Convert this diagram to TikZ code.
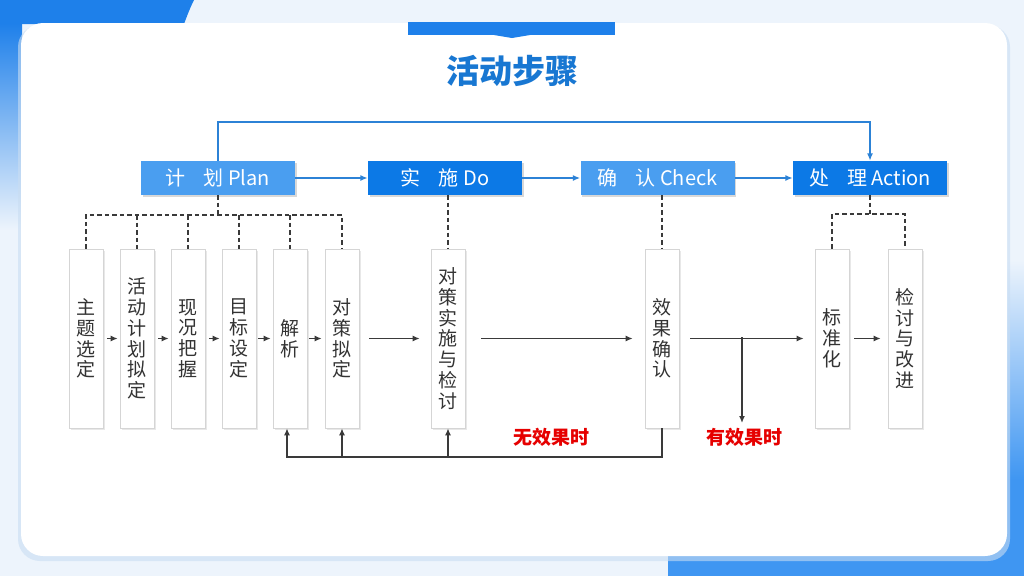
\documentclass[tikz,border=0pt]{standalone}
\usepackage{fontspec}
\setmainfont{Noto Sans CJK SC}
\usetikzlibrary{arrows.meta,shadows}
\definecolor{bg}{HTML}{EDF4FC}
\definecolor{topblue}{HTML}{1E80EA}
\definecolor{hdrlight}{HTML}{4A9EF0}
\definecolor{hdrdark}{HTML}{0C79E6}
\definecolor{titleblue}{HTML}{1877D2}
\definecolor{loopblue}{HTML}{2C82D6}
\definecolor{linegray}{HTML}{3A3A3A}
\definecolor{boxedge}{HTML}{D5D5D5}
\definecolor{txtgray}{HTML}{333333}
\definecolor{redtxt}{HTML}{E60000}
\definecolor{brblue}{HTML}{3F96F2}
\definecolor{cardshadow}{HTML}{C9DDF2}
\begin{document}
\begin{tikzpicture}[x=1pt,y=-1pt,
  hdrL/.style={fill=hdrlight, text=white, minimum width=154pt, minimum height=34pt,
    inner sep=0pt, font=\fontsize{20}{22}\selectfont,
    drop shadow={shadow xshift=1.5pt, shadow yshift=-2pt, opacity=0.3, fill=gray}},
  hdrD/.style={hdrL, fill=hdrdark},
  stepbox/.style={draw=boxedge, fill=white, line width=0.6pt, minimum width=34pt,
    minimum height=179pt, inner sep=0pt, align=center, text=txtgray,
    font=\fontsize{19}{20.8}\selectfont,
    drop shadow={shadow xshift=1.5pt, shadow yshift=-1.5pt, opacity=0.18, fill=gray}},
  dashline/.style={draw=linegray, line width=1.5pt, dash pattern=on 4.5pt off 3pt},
  flow/.style={draw=linegray, line width=1.6pt, -{Latex[length=7pt,width=6pt]}},
  blueflow/.style={draw=loopblue, line width=1.6pt, -{Latex[length=7.5pt,width=6pt]}},
  redlabel/.style={text=redtxt, font=\fontsize{19}{21}\selectfont\bfseries}
]
\useasboundingbox (0,0) rectangle (1024,576);
% background
\fill[bg] (0,0) rectangle (1024,576);
\fill[topblue] (0,0) -- (194,0) .. controls (190,8) and (187,16) .. (184,24) -- (0,24) -- cycle;
\shade[top color=topblue, bottom color=bg] (0,23.5) rectangle (22,230);
\shade[top color=bg, bottom color=brblue] (668,260) rectangle (1024,480);
\fill[brblue] (668,479.5) rectangle (1024,576);
% card
\fill[cardshadow, opacity=0.6, rounded corners=22pt] (18,25) rectangle (1010,561);
\fill[white, rounded corners=22pt] (21,23) rectangle (1007,556);
% tab
\fill[topblue] (408,22) rectangle (615,35);
\fill[topblue] (494,35) -- (512,38) -- (530,35) -- cycle;
% title
\node[font=\fontsize{33}{33}\selectfont\bfseries, text=titleblue] (title) at (512,71) {活动步骤};

% headers
\node[hdrL] (plan) at (218,178) {计\hspace{0.9em}划 Plan};
\node[hdrD] (do)   at (445,178) {实\hspace{0.9em}施 Do};
\node[hdrL] (chk)  at (657.5,178) {确\hspace{0.9em}认 Check};
\node[hdrD] (act)  at (870,178) {处\hspace{0.9em}理 Action};

\draw[blueflow] (plan) -- (do);
\draw[blueflow] (do) -- (chk);
\draw[blueflow] (chk) -- (act);
\draw[blueflow] (plan.north) -- ++(0,-39) -| (act.north);

% step boxes
\node[stepbox] (b1)  at (86,338.5)  {主\\题\\选\\定};
\node[stepbox] (b2)  at (137,338.5) {活\\动\\计\\划\\拟\\定};
\node[stepbox] (b3)  at (188,338.5) {现\\况\\把\\握};
\node[stepbox] (b4)  at (239,338.5) {目\\标\\设\\定};
\node[stepbox] (b5)  at (290,338.5) {解\\析};
\node[stepbox] (b6)  at (342,338.5) {对\\策\\拟\\定};
\node[stepbox] (b7)  at (448,338.5) {对\\策\\实\\施\\与\\检\\讨};
\node[stepbox] (b8)  at (662,338.5) {效\\果\\确\\认};
\node[stepbox] (b9)  at (832,338.5) {标\\准\\化};
\node[stepbox] (b10) at (905,338.5) {检\\讨\\与\\改\\进};

% dashed links
\coordinate (pj) at (218,215);
\draw[dashline] (plan.south) -- (pj);
\draw[dashline] (b1.north) -- (b1.north |- pj) -- (b6.north |- pj) -- (b6.north);
\foreach \b in {b2,b3,b4,b5} \draw[dashline] (\b.north |- pj) -- (\b.north);
\draw[dashline] (b7.north |- do.south) -- (b7.north);
\draw[dashline] (b8.north |- chk.south) -- (b8.north);
\coordinate (aj) at (870,214);
\draw[dashline] (act.south) -- (aj);
\draw[dashline] (b9.north) -- (b9.north |- aj) -- (b10.north |- aj) -- (b10.north);

% flow arrows between boxes
\draw[flow, shorten <=4pt, shorten >=2pt] (b1) -- (b2);
\draw[flow, shorten <=4pt, shorten >=2pt] (b2) -- (b3);
\draw[flow, shorten <=4pt, shorten >=2pt] (b3) -- (b4);
\draw[flow, shorten <=2pt, shorten >=2pt] (b4) -- (b5);
\draw[flow, shorten <=2pt, shorten >=3pt] (b5) -- (b6);
\draw[flow, shorten <=10pt, shorten >=11pt] (b6) -- (b7);
\draw[flow, shorten <=16pt, shorten >=12pt] (b7) -- (b8);
\draw[flow, shorten <=11pt, shorten >=11pt] (b8) -- (b9);
\draw[flow, shorten <=5pt, shorten >=7pt] (b9) -- (b10);

% branch to "有效果时"
\coordinate (brA) at (742,337);
\coordinate (brB) at (742,423);
\draw[flow] (brA) -- (brB);

% feedback loop
\coordinate (fbL) at (287,457);
\draw[flow] (b8.south) -- (b8.south |- fbL) -- (fbL) -- (fbL |- b5.south);
\draw[flow] (b6.south |- fbL) -- (b6.south);
\draw[flow] (b7.south |- fbL) -- (b7.south);

% labels
\node[redlabel] (nolab) at (551,437) {无效果时};
\node[redlabel] (yeslab) at (744,437) {有效果时};
\end{tikzpicture}
\end{document}
